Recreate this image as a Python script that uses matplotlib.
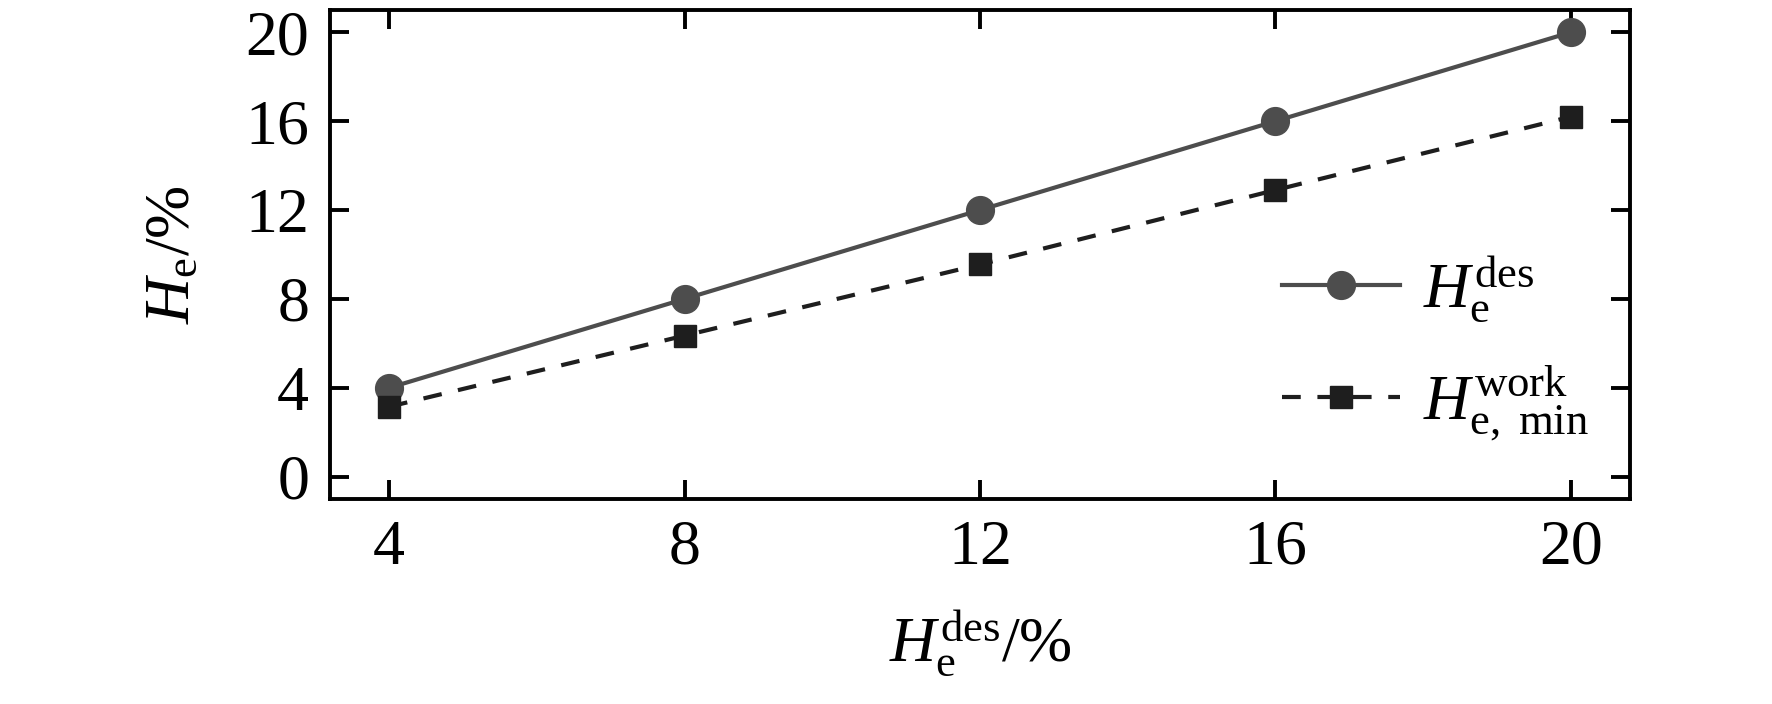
import matplotlib
matplotlib.use("Agg")
import matplotlib.pyplot as plt

# values
x_vals = [4, 8, 12, 16, 20]
h_des = [4, 8, 12, 16, 20]
h_work_min = [3.15, 6.35, 9.55, 12.9, 16.2]
xticks = [4, 8, 12, 16, 20]
yticks = [0, 4, 8, 12, 16, 20]

plt.rcParams['font.family'] = ['Liberation Serif', 'DejaVu Serif']
plt.rcParams['mathtext.fontset'] = 'custom'
plt.rcParams['mathtext.rm'] = 'Liberation Serif'
plt.rcParams['mathtext.it'] = 'Liberation Serif:italic'
plt.rcParams['mathtext.bf'] = 'Liberation Serif:bold'

fig = plt.figure(figsize=(17.72, 7.04), dpi=100)
ax = fig.add_axes([0.1862, 0.2912, 0.7337, 0.6946])

ax.plot(x_vals, h_des, '-o', color='#4d4d4d', lw=3, ms=20,
        label=r'$H_{\mathrm{e}}^{\mathrm{des}}$')
ax.plot(x_vals, h_work_min, '--s', color='#1e1e1e', lw=3, ms=16,
        dashes=(4.5, 4), label=r'$H_{\mathrm{e,\ min}}^{\mathrm{work}}$')

ax.set_xlim(3.2, 20.8)
ax.set_ylim(-1, 21)
ax.set_xticks(xticks)
ax.set_yticks(yticks)

for s in ax.spines.values():
    s.set_linewidth(2.8)
ax.tick_params(direction='in', length=14, width=2.8, labelsize=46,
               top=True, right=True, pad=15)

ax.set_xlabel(r'$H_{\mathrm{e}}^{\mathrm{des}}$/%', fontsize=46, labelpad=22)
ax.set_ylabel(r'$H_{\mathrm{e}}$/%', fontsize=46, labelpad=30)

ax.legend(loc='lower right', bbox_to_anchor=(1.0, 0.03), frameon=False,
          fontsize=46, handlelength=1.85, labelspacing=0.62, handletextpad=0.35,
          borderaxespad=0.25)

fig.savefig('out.png', dpi=100)
